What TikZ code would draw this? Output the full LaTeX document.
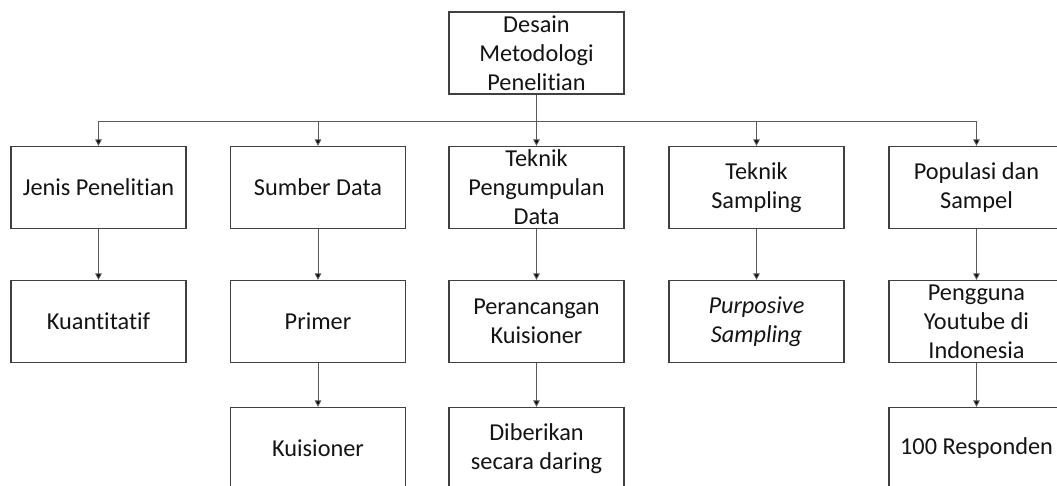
\documentclass[tikz,border=0pt]{standalone}
\usepackage{fontspec}
\setmainfont{Carlito}[Ligatures={NoCommon,NoContextual,NoRequired},RawFeature={-liga;-clig;-dlig;-calt}]
\usetikzlibrary{arrows.meta}
\begin{document}
\begin{tikzpicture}[x=1pt,y=-1pt,
  stagebox/.style={draw=black!75, line width=1.2pt, fill=white,
    minimum width=175pt, minimum height=82pt, inner sep=0pt,
    align=center, text=black!92,
    font=\fontsize{24.3}{29}\selectfont},
  link/.style={draw=black!65, line width=0.9pt},
  linkarrow/.style={link, -{Triangle[width=6.5pt,length=6.5pt,fill=black]}}]
\useasboundingbox (0,0) rectangle (1057,486);
\clip (0,0) rectangle (1057,486);

% top of the hierarchy
\node[stagebox] (root) at (536.5,53) {Desain\\Metodologi\\Penelitian};

% first level
\node[stagebox] (jenis)   at (98.5,187.5)  {Jenis Penelitian};
\node[stagebox] (sumber)  at (318,187.5)   {Sumber Data};
\node[stagebox] (teknikp) at (536.5,187.5) {Teknik\\Pengumpulan\\Data};
\node[stagebox] (teknis)  at (756.5,187.5) {Teknik\\Sampling};
\node[stagebox] (popul)   at (976.5,187.5) {Populasi dan\\Sampel};

% second level
\node[stagebox] (kuanti)  at (98.5,321.5)  {Kuantitatif};
\node[stagebox] (primer)  at (318,321.5)   {Primer};
\node[stagebox] (rancang) at (536.5,321.5) {Perancangan\\Kuisioner};
\node[stagebox] (purpos)  at (756.5,321.5) {\itshape Purposive\\\itshape Sampling};
\node[stagebox] (pengg)   at (976.5,321.5) {Pengguna\\Youtube di\\Indonesia};

% third level
\node[stagebox] (kuis)    at (318,448.5)   {Kuisioner};
\node[stagebox] (daring)  at (536.5,448.5) {Diberikan\\secara daring};
\node[stagebox] (resp)    at (976.5,448.5) {100 Responden};

% branching bus below the root
\coordinate (bus) at (536.5,121);
\draw[link] (root.south) -- (bus);
\draw[linkarrow] (bus) -| (jenis.north);
\draw[linkarrow] (bus) -| (sumber.north);
\draw[linkarrow] (bus) -- (teknikp.north);
\draw[linkarrow] (bus) -| (teknis.north);
\draw[linkarrow] (bus) -| (popul.north);

% vertical links
\draw[linkarrow] (jenis.south) -- (kuanti.north);
\draw[linkarrow] (sumber.south) -- (primer.north);
\draw[linkarrow] (teknikp.south) -- (rancang.north);
\draw[linkarrow] (teknis.south) -- (purpos.north);
\draw[linkarrow] (popul.south) -- (pengg.north);
\draw[linkarrow] (primer.south) -- (kuis.north);
\draw[linkarrow] (rancang.south) -- (daring.north);
\draw[linkarrow] (pengg.south) -- (resp.north);
\end{tikzpicture}
\end{document}
